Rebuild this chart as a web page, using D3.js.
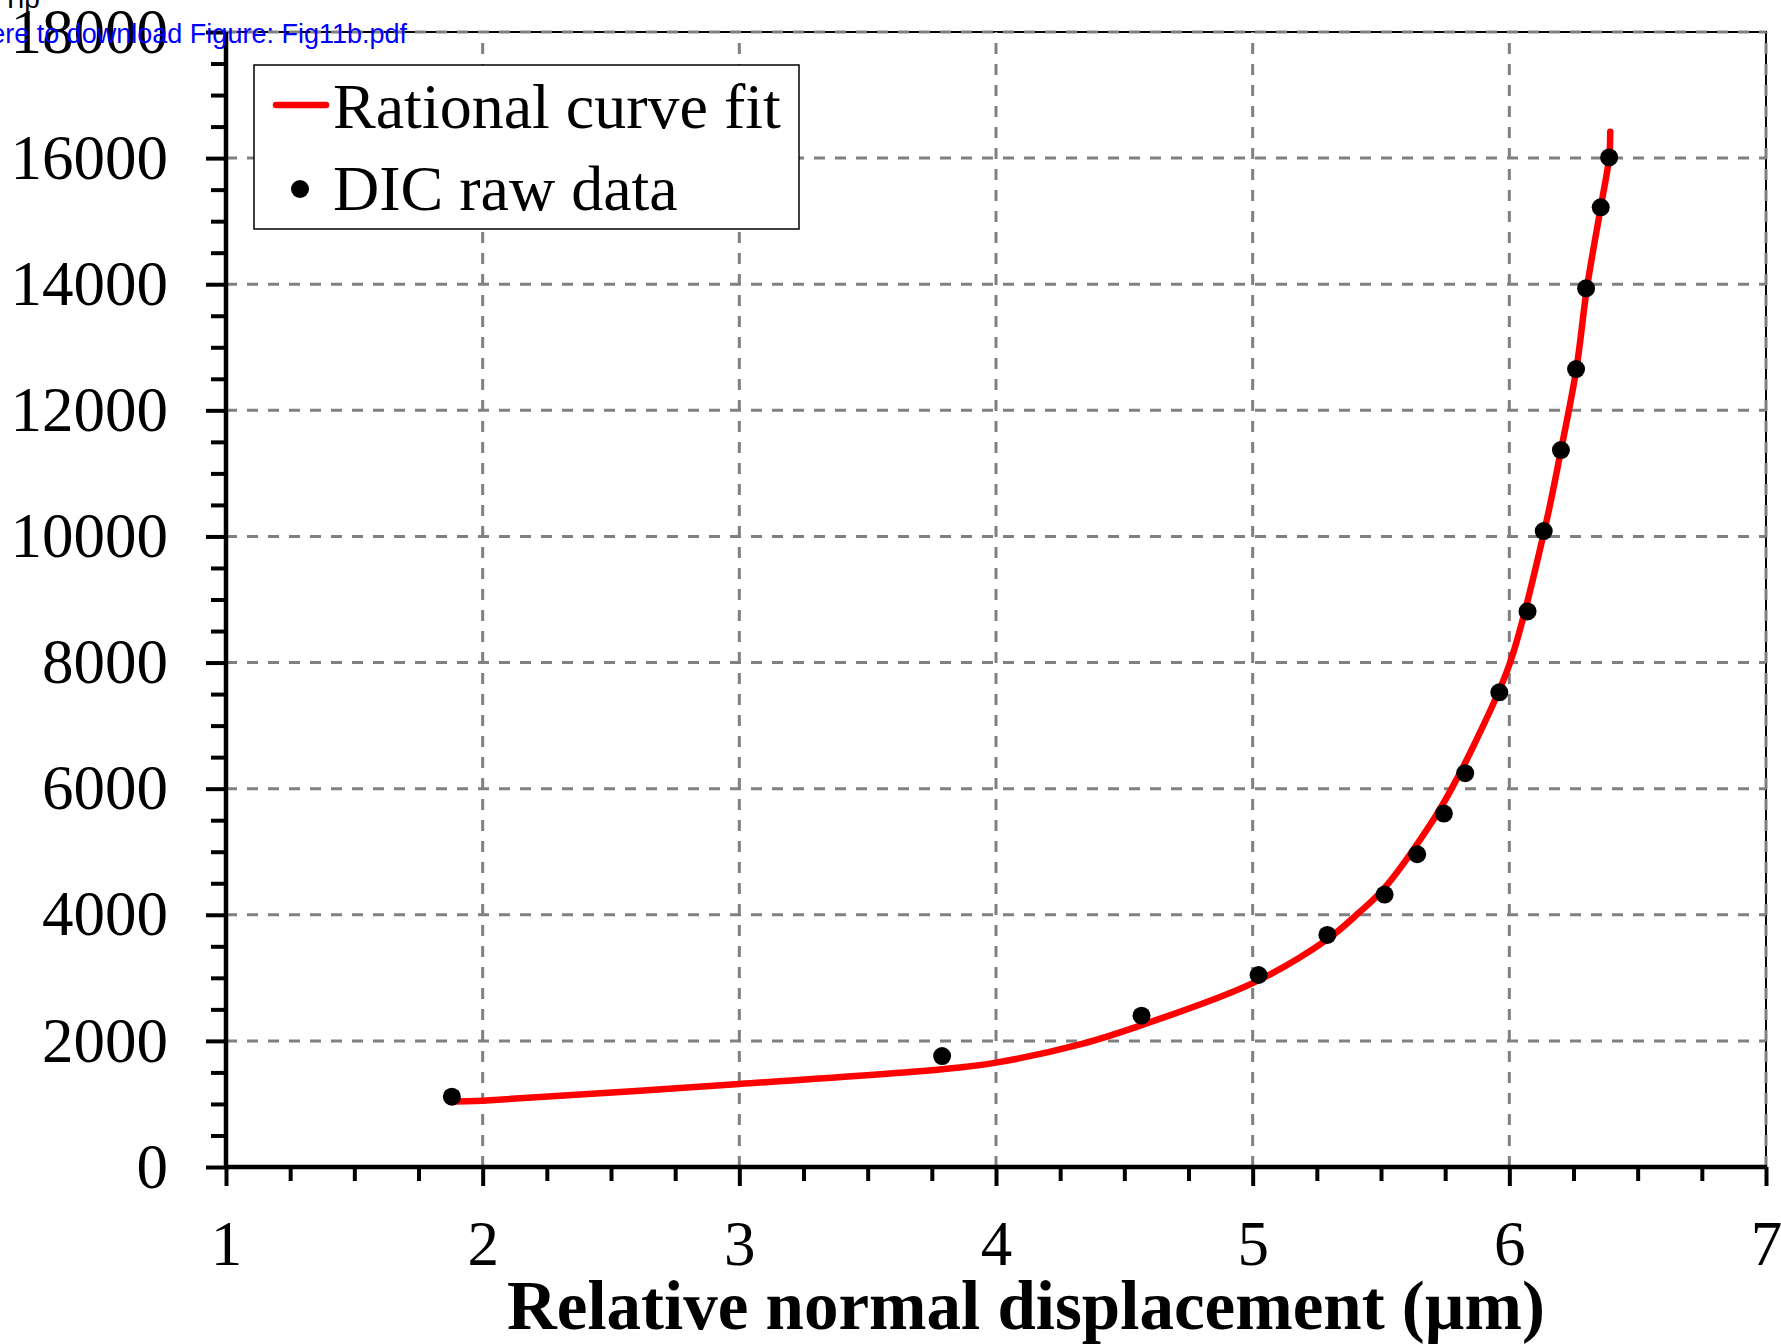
<!DOCTYPE html>
<html>
<head>
<meta charset="utf-8">
<script src="https://cdn.jsdelivr.net/npm/d3@7"></script>
<style>
  html, body { margin: 0; padding: 0; background: #fff; }
  svg { display: block; }
</style>
</head>
<body>
<script>
// 读出来的数据点 (DIC raw data)
const dispX = [1.88, 3.79, 4.567, 5.023, 5.291, 5.514, 5.641, 5.745, 5.828, 5.961, 6.071, 6.134, 6.201, 6.260, 6.299, 6.356, 6.389];
const loadY = [1116, 1760, 2400, 3045, 3680, 4320, 4960, 5605, 6245, 7528, 8810, 10085, 11370, 12655, 13935, 15220, 16010];

// 拟合曲线 (Rational curve fit), 点
const fitX = [1.88, 2.0, 3.0, 3.79, 4.0, 4.335, 4.57, 5.0, 5.292, 5.405, 5.513, 5.704, 5.775, 5.875, 6.003, 6.136, 6.201, 6.261, 6.302, 6.356, 6.389, 6.393];
const fitY = [1037, 1052, 1317, 1550, 1656, 1952, 2254, 2915, 3614, 4000, 4423, 5508, 6000, 6800, 8000, 10084, 11365, 12651, 13932, 15217, 16011, 16420];

// 刻度
const xMajor = [1, 2, 3, 4, 5, 6, 7];
const yMajor = [0, 2000, 4000, 6000, 8000, 10000, 12000, 14000, 16000, 18000];
const xTitle = 'Relative normal displacement (µm)';
const legendLabels = ['Rational curve fit', 'DIC raw data'];

const W = 1781, H = 1344;
const svg = d3.select('body').append('svg').attr('width', W).attr('height', H);

const x = d3.scaleLinear().domain([1, 7]).range([226, 1766]);
const y = d3.scaleLinear().domain([0, 18000]).range([1167, 32]);

const serif = '"Liberation Serif", "Times New Roman", serif';
const sans = '"Liberation Sans", Arial, sans-serif';

// 外框 (上, 右)
svg.append('path')
  .attr('d', `M${x(1)},${y(18000)} L${x(7)},${y(18000)} L${x(7)},${y(0)}`)
  .attr('fill', 'none').attr('stroke', '#000').attr('stroke-width', 2);

// 网格
const grid = svg.append('g').attr('class', 'grid')
  .attr('stroke', '#808080').attr('stroke-width', 3).attr('stroke-dasharray', '11,10');
grid.selectAll('line.h').data(yMajor.filter(d => d > 0)).enter().append('line')
  .attr('class', 'h')
  .attr('x1', x(1)).attr('x2', x(7))
  .attr('y1', d => y(d)).attr('y2', d => y(d));
grid.selectAll('line.v').data(xMajor.filter(d => d > 1)).enter().append('line')
  .attr('class', 'v')
  .attr('y1', y(0)).attr('y2', y(18000))
  .attr('x1', d => x(d)).attr('x2', d => x(d));

// 曲线
const fit = fitX.map((d, i) => [d, fitY[i]]);
svg.append('path')
  .datum(fit)
  .attr('fill', 'none')
  .attr('stroke', '#ff0000')
  .attr('stroke-width', 6.5)
  .attr('stroke-linecap', 'round')
  .attr('stroke-linejoin', 'round')
  .attr('d', d3.line().x(d => x(d[0])).y(d => y(d[1])).curve(d3.curveCatmullRom.alpha(0.5)));

// 点
svg.append('g').selectAll('circle')
  .data(dispX.map((d, i) => [d, loadY[i]]))
  .enter().append('circle')
  .attr('cx', d => x(d[0])).attr('cy', d => y(d[1])).attr('r', 9)
  .attr('fill', '#000');

// 坐标轴
const yMinor = d3.range(0, 18001, 500).filter(d => d % 2000 !== 0);
const xMinor = d3.range(1, 7.001, 0.25).filter(d => Math.abs(d - Math.round(d)) > 1e-6);

function styleAxis(g) {
  g.select('.domain').remove();
  g.selectAll('.tick line').attr('stroke', '#000').attr('stroke-width', 4);
  g.selectAll('.tick text').attr('fill', '#000')
    .style('font-family', serif).style('font-size', '63px');
}

svg.append('g').attr('transform', `translate(${x(1)},0)`)
  .call(d3.axisLeft(y).tickValues(yMinor).tickSize(15).tickFormat(''))
  .call(styleAxis);
svg.append('g').attr('transform', `translate(${x(1)},0)`)
  .call(d3.axisLeft(y).tickValues(yMajor).tickSize(20).tickPadding(38).tickFormat(d3.format('d')))
  .call(styleAxis);

svg.append('g').attr('transform', `translate(0,${y(0)})`)
  .call(d3.axisBottom(x).tickValues(xMinor).tickSize(14).tickFormat(''))
  .call(styleAxis);
svg.append('g').attr('transform', `translate(0,${y(0)})`)
  .call(d3.axisBottom(x).tickValues(xMajor).tickSize(19).tickPadding(34).tickFormat(d3.format('d')))
  .call(styleAxis);

// 轴线 (粗)
svg.append('line')
  .attr('x1', x(1)).attr('x2', x(1)).attr('y1', y(0) + 2).attr('y2', y(18000))
  .attr('stroke', '#000').attr('stroke-width', 4.5);
svg.append('line')
  .attr('x1', x(1) - 2).attr('x2', x(7) + 1).attr('y1', y(0)).attr('y2', y(0))
  .attr('stroke', '#000').attr('stroke-width', 4.5);

// x 轴标题
svg.append('text')
  .attr('x', 1026).attr('y', 1329)
  .attr('text-anchor', 'middle')
  .style('font-family', serif).style('font-size', '69px').style('font-weight', 'bold')
  .text(xTitle);

// 图例
const lg = svg.append('g').attr('class', 'legend');
lg.append('rect')
  .attr('x', 254).attr('y', 65).attr('width', 545).attr('height', 164)
  .attr('fill', '#fff').attr('stroke', '#000').attr('stroke-width', 1.5);
lg.append('line')
  .attr('x1', 276).attr('x2', 326).attr('y1', 105).attr('y2', 105)
  .attr('stroke', '#ff0000').attr('stroke-width', 6.5).attr('stroke-linecap', 'round');
lg.append('circle').attr('cx', 300).attr('cy', 189).attr('r', 9).attr('fill', '#000');
lg.selectAll('text').data(legendLabels).enter().append('text')
  .attr('x', 333).attr('y', (d, i) => 128 + i * 82)
  .style('font-family', serif).style('font-size', '64px')
  .text(d => d);

// 左上角的残留文字
svg.append('text')
  .attr('x', 2).attr('y', 8)
  .style('font-family', sans).style('font-size', '28px').attr('fill', '#000')
  .text('Tip');
svg.append('text')
  .attr('x', 407).attr('y', 43)
  .attr('text-anchor', 'end')
  .style('font-family', sans).style('font-size', '27px').attr('fill', '#0000ff')
  .text('ere to download Figure: Fig11b.pdf');
</script>
</body>
</html>
